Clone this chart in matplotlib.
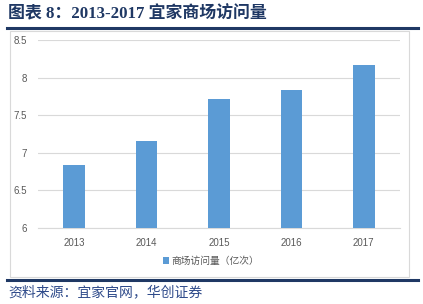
import matplotlib
matplotlib.use("Agg")
import matplotlib.pyplot as plt
from matplotlib.patches import Rectangle
from matplotlib.lines import Line2D

plt.rcParams['font.family'] = ['Liberation Sans', 'Noto Sans CJK SC', 'DejaVu Sans']

years = ["2013", "2014", "2015", "2016", "2017"]
visits = [6.84, 7.16, 7.71, 7.83, 8.17]
yticks = [6, 6.5, 7, 7.5, 8, 8.5]
ytick_labels = ["6", "6.5", "7", "7.5", "8", "8.5"]
series_name = "商场访问量（亿次）"
title = "图表 8：2013-2017 宜家商场访问量"
source = "资料来源：宜家官网，华创证券"

W, H = 423, 304
fig = plt.figure(figsize=(W / 100, H / 100), dpi=100)

navy = "#1F3864"
bar_color = "#5B9BD5"

# title
fig.text(8 / W, 1 - 14 / H, title, fontsize=12.2, fontweight='bold', color=navy,
         family=['Liberation Serif', 'Noto Sans CJK SC'], va='center', ha='left')
# top rule
fig.add_artist(Line2D([7 / W, 418 / W], [1 - 27.5 / H, 1 - 27.5 / H], color=navy, lw=2.2))
# chart frame
fig.add_artist(Rectangle((10 / W, 1 - 277 / H), 399 / W, 246 / H, fill=False,
                         edgecolor="#D9D9D9", lw=0.8, transform=fig.transFigure))
# bottom rule
fig.add_artist(Line2D([7 / W, 418 / W], [1 - 279.5 / H, 1 - 279.5 / H], color=navy, lw=2.2))
# source
fig.text(8 / W, 1 - 292 / H, source, fontsize=10, style='italic', color="#2E4A8A",
         family=['Noto Sans CJK SC'], va='center', ha='left')

ax = fig.add_axes([38 / W, 1 - 228 / H, 362 / W, 188 / H])
x = range(len(years))
ax.bar(x, visits, width=0.3, color=bar_color, zorder=3, label=series_name)
ax.set_ylim(6, 8.5)
ax.set_xlim(-0.5, len(years) - 0.5)
ax.set_yticks(yticks)
ax.set_yticklabels(ytick_labels)
ax.set_xticks(list(x))
ax.set_xticklabels(years)
ax.yaxis.grid(True, color="#D9D9D9", lw=0.8, zorder=0)
for s in ax.spines.values():
    s.set_visible(False)
ax.spines['bottom'].set_visible(True)
ax.spines['bottom'].set_color("#D9D9D9")
ax.tick_params(axis='both', length=0, labelsize=7, labelcolor="#595959")
ax.tick_params(axis='y', pad=8)
ax.tick_params(axis='x', pad=7)

leg = fig.legend(loc='center', bbox_to_anchor=(211 / W, 1 - 261 / H), frameon=False,
                 fontsize=7, handlelength=0.6, handleheight=0.6, handletextpad=0.3,
                 labelcolor="#595959")

fig.savefig("out.png", dpi=100)
